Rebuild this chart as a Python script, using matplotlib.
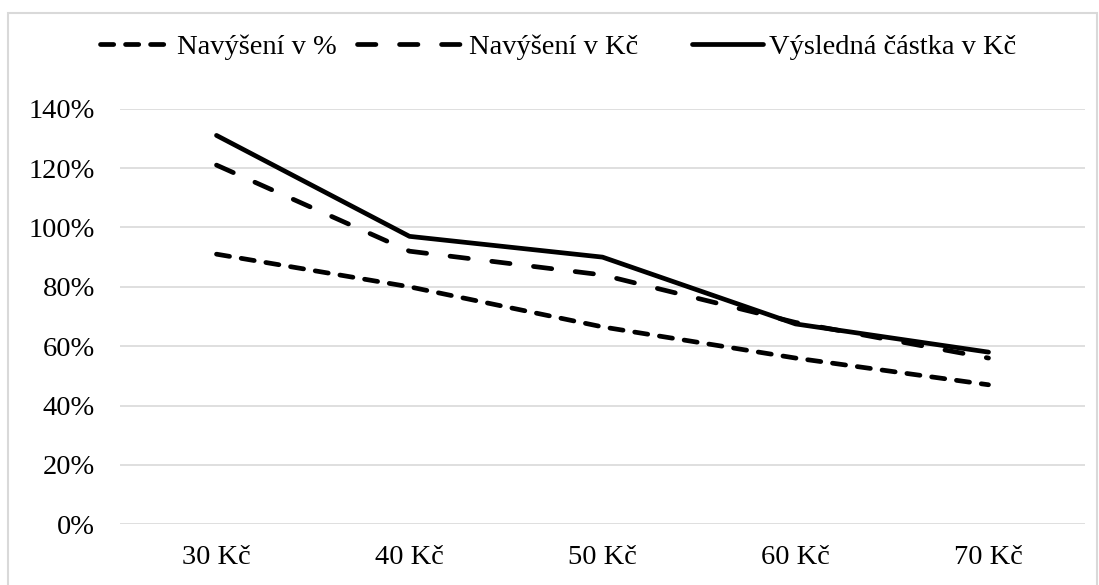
import matplotlib.pyplot as plt
from matplotlib.patches import Rectangle
from matplotlib.ticker import FuncFormatter

plt.rcParams['font.family'] = ['Liberation Serif', 'DejaVu Serif']

kategorie = ["30 Kč", "40 Kč", "50 Kč", "60 Kč", "70 Kč"]
navyseni_pct = [91, 80, 66.5, 56, 47]
navyseni_kc = [121, 92, 84, 68, 56]
vysledna_castka = [131, 97, 90, 67.5, 58]
nazvy = ["Navýšení v %", "Navýšení v Kč", "Výsledná částka v Kč"]

W, H = 1099, 585
fig = plt.figure(figsize=(W / 100, H / 100), dpi=100)
fig.patches.append(Rectangle((8 / W, -0.1), (1097 - 8) / W, 1.1 - 13 / H,
                             transform=fig.transFigure, fill=False,
                             edgecolor="#d9d9d9", linewidth=1.5))
ax = fig.add_axes([120 / W, 60.7 / H, 965 / W, 415.6 / H])

x = range(len(kategorie))
lw = 3.4
l1, = ax.plot(x, navyseni_pct, color="black", lw=lw, dashes=(2.8, 2.5),
              dash_capstyle="round")
l2, = ax.plot(x, navyseni_kc, color="black", lw=lw, dashes=(3.9, 5.0),
              dash_capstyle="round")
l3, = ax.plot(x, vysledna_castka, color="black", lw=lw, solid_capstyle="round")

ax.set_xlim(-0.5, len(kategorie) - 0.5)
ax.set_ylim(0, 140)
ax.set_yticks(range(0, 141, 20))
ax.yaxis.set_major_formatter(FuncFormatter(lambda v, p: f"{v:.0f}%"))
ax.set_xticks(list(x))
ax.set_xticklabels(kategorie)
ax.grid(axis="y", color="#d9d9d9", linewidth=1.2)
ax.set_axisbelow(True)
for s in ax.spines.values():
    s.set_visible(False)
ax.tick_params(length=0, labelsize=20.5, colors="black")
ax.tick_params(axis="y", pad=18)
ax.tick_params(axis="x", pad=15)

# legenda nahoře, každá položka zvlášť
for line, nazev, x0, delka in [(l1, nazvy[0], 100, 2.5),
                               (l2, nazvy[1], 357, 3.75),
                               (l3, nazvy[2], 692, 2.5)]:
    leg = fig.legend([line], [nazev], loc="center left",
                     bbox_to_anchor=(x0 / W, 1 - 47 / H), frameon=False,
                     fontsize=20.5, handlelength=delka, handletextpad=0.2,
                     borderpad=0, borderaxespad=0)

fig.savefig("out.png", dpi=100)
